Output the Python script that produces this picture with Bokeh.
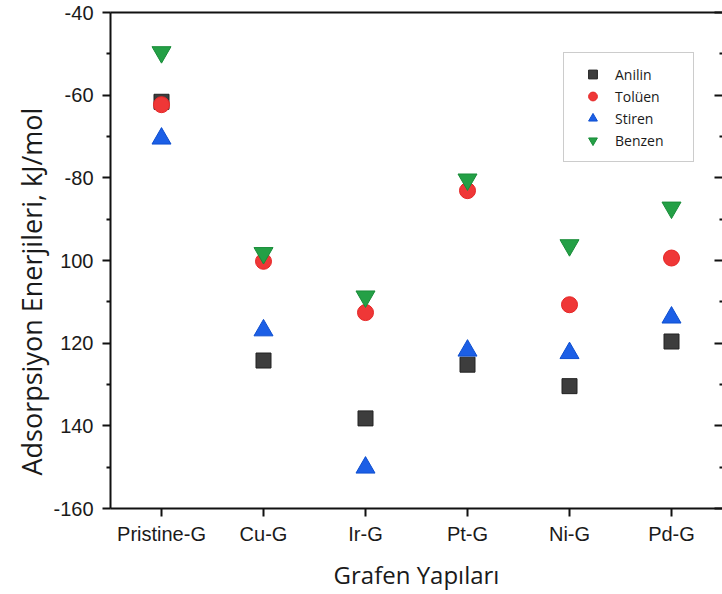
from bokeh.plotting import figure
from bokeh.models import (FactorRange, Range1d, LinearAxis, CategoricalAxis,
                          Legend, LegendItem, Title, FixedTicker)
from bokeh.embed import file_html
from bokeh.resources import INLINE

# ---- data -------------------------------------------------------------
structures = ["Pristine-G", "Cu-G", "Ir-G", "Pt-G", "Ni-G", "Pd-G"]
anilin = [-61.6, -124.2, -138.2, -125.2, -130.4, -119.6]
toluen = [-62.3, -100.2, -112.6, -83.1, -110.7, -99.4]
stiren = [-70.5, -116.9, -150.1, -121.8, -122.4, -113.8]
benzen = [-49.6, -98.2, -108.7, -80.4, -96.3, -87.2]

y_ticks = [-160, -140, -120, -100, -80, -60, -40]
y_minor = [-150, -130, -110, -90, -70, -50]
y_tick_labels = ["-160", "140", "120", "100", "-80", "-60", "-40"]

series_names = ["Anilin", "Tolüen", "Stiren", "Benzen"]

# ---- figure -----------------------------------------------------------
p = figure(width=722, height=594,
           x_range=FactorRange(*structures, range_padding=0),
           y_range=Range1d(-160, -40),
           output_backend="svg", toolbar_location=None,
           min_border_left=110, min_border_bottom=86,
           min_border_top=12, min_border_right=0)
p.outline_line_color = None
p.xgrid.visible = False
p.ygrid.visible = False
p.background_fill_color = "white"
p.border_fill_color = "white"

TICK_FONT = "Liberation Sans"
LABEL_FONT = "Open Sans"

# bottom axis
xa = p.xaxis[0]
xa.axis_line_width = 2
xa.axis_line_color = "#111111"
xa.major_tick_out = 8
xa.major_tick_in = 0
xa.major_tick_line_width = 2
xa.major_tick_line_color = "#111111"
xa.major_label_text_font = TICK_FONT
xa.major_label_text_font_size = "20px"
xa.major_label_text_color = "#1a1a1a"
xa.major_label_standoff = 6
xa.axis_label = "Grafen Yapıları"
xa.axis_label_text_font = LABEL_FONT
xa.axis_label_text_font_size = "24px"
xa.axis_label_text_font_style = "normal"
xa.axis_label_text_color = "#1a1a1a"
xa.axis_label_standoff = 10

# left axis
ticker = FixedTicker(ticks=y_ticks, minor_ticks=y_minor)
ya = p.yaxis[0]
ya.ticker = ticker
ya.major_label_overrides = {t: s for t, s in zip(y_ticks, y_tick_labels)}
ya.axis_line_width = 2
ya.axis_line_color = "#111111"
ya.major_tick_out = 8
ya.major_tick_in = 0
ya.minor_tick_out = 4
ya.minor_tick_in = 0
ya.major_tick_line_width = 2
ya.minor_tick_line_width = 2
ya.major_tick_line_color = "#111111"
ya.minor_tick_line_color = "#111111"
ya.major_label_text_font = TICK_FONT
ya.major_label_text_font_size = "20px"
ya.major_label_text_color = "#1a1a1a"
ya.major_label_standoff = 9

# top frame line
top = CategoricalAxis(major_tick_line_color=None, major_label_text_color=None,
                      major_label_text_font_size="1px", major_label_standoff=0,
                      axis_line_width=2, axis_line_color="#111111")
p.add_layout(top, "above")

# right axis with inward ticks
right = LinearAxis(ticker=FixedTicker(ticks=y_ticks, minor_ticks=y_minor),
                   major_tick_in=8, major_tick_out=0,
                   minor_tick_in=3, minor_tick_out=0,
                   major_tick_line_width=2, minor_tick_line_width=2,
                   major_tick_line_color="#111111", minor_tick_line_color="#111111",
                   major_label_text_color=None, major_label_text_font_size="1px",
                   major_label_standoff=0, axis_line_color=None)
p.add_layout(right, "right")

# vertical axis title
ytitle = Title(text="Adsorpsiyon Enerjileri, kJ/mol", align="left", offset=33,
               text_font=LABEL_FONT, text_font_size="27px",
               text_font_style="normal", text_color="#1a1a1a", standoff=2)
p.add_layout(ytitle, "left")

# ---- markers ----------------------------------------------------------
r_an = p.scatter(structures, anilin, marker="square", size=15,
                 fill_color="#3d3d3d", line_color="#222222", line_width=1)
r_to = p.scatter(structures, toluen, marker="circle", size=16,
                 fill_color="#ef3737", line_color="#e52626", line_width=1)
r_st = p.scatter(structures, stiren, marker="triangle", size=19,
                 fill_color="#1c5fe6", line_color="#0e4fd0", line_width=1)
r_be = p.scatter(structures, benzen, marker="inverted_triangle", size=19,
                 fill_color="#24a046", line_color="#188c38", line_width=1)

legend = Legend(items=[LegendItem(label=n, renderers=[r])
                       for n, r in zip(series_names, [r_an, r_to, r_st, r_be])],
                location=(453, 346),
                glyph_width=37, glyph_height=22, spacing=0,
                label_height=21, label_width=68, label_standoff=4,
                padding=10, margin=0,
                label_text_font=LABEL_FONT, label_text_font_size="14px",
                label_text_color="#1a1a1a",
                border_line_color="#9a9a9a", border_line_width=1.5,
                background_fill_color="white", background_fill_alpha=1)
p.add_layout(legend)

open("out.html", "w").write(file_html(p, INLINE))
